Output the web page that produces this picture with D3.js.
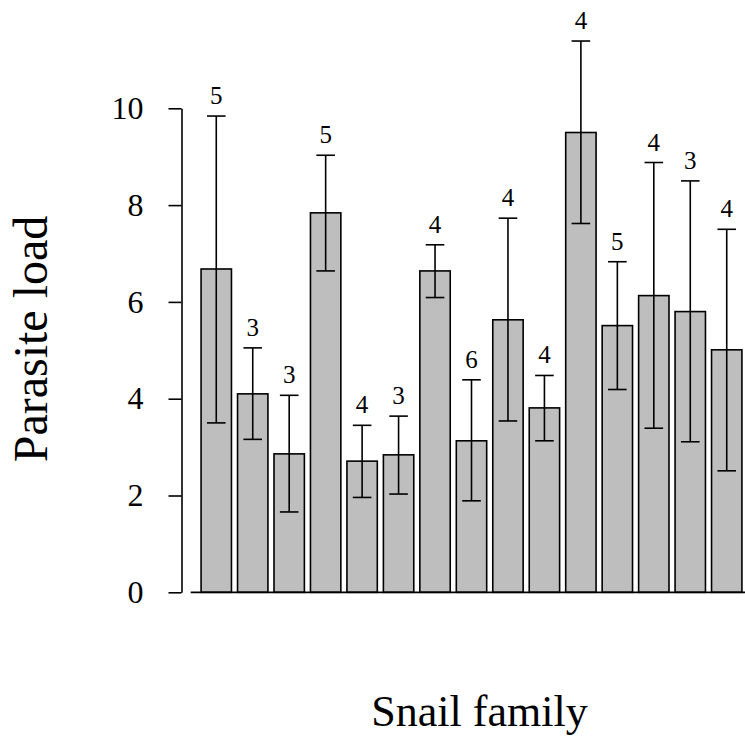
<!DOCTYPE html>
<html>
<head>
<meta charset="utf-8">
<script src="https://cdn.jsdelivr.net/npm/d3@7"></script>
<style>
  body { margin: 0; background: #fff; }
  svg { display: block; }
</style>
</head>
<body>
<div id="chart"></div>
<script>
// snail families (unlabelled on the x axis)
const families = ["F1", "F2", "F3", "F4", "F5", "F6", "F7", "F8", "F9", "F10", "F11", "F12", "F13", "F14", "F15"];
const means = [6.68, 4.10, 2.86, 7.84, 2.71, 2.84, 6.64, 3.13, 5.63, 3.81, 9.50, 5.51, 6.13, 5.80, 5.01];
const upper = [9.84, 5.05, 4.07, 9.03, 3.45, 3.64, 7.18, 4.39, 7.73, 4.48, 11.39, 6.83, 8.88, 8.50, 7.50];
const lower = [3.50, 3.16, 1.66, 6.64, 1.96, 2.03, 6.09, 1.89, 3.54, 3.13, 7.62, 4.19, 3.39, 3.11, 2.51];
const sampleSizes = [5, 3, 3, 5, 4, 3, 4, 6, 4, 4, 4, 5, 4, 3, 4];
const yTicks = [0, 2, 4, 6, 8, 10];

const width = 745;
const height = 740;
const axisX = 181.5;
const capHalf = 9.3;
const serif = "'Liberation Serif', 'Times New Roman', serif";

const data = families.map((f, i) => ({
  family: f,
  mean: means[i],
  hi: upper[i],
  lo: lower[i],
  n: sampleSizes[i],
}));

const svg = d3
  .select("#chart")
  .append("svg")
  .attr("width", width)
  .attr("height", height);

/* Scales */
const x = d3
  .scaleBand()
  .domain(families)
  .range([195, 748])
  .paddingInner(0.1667)
  .paddingOuter(0.1667);

const y = d3.scaleLinear().domain([0, 10]).range([592.3, 108.3]);

/* Bars */
svg
  .append("g")
  .selectAll("rect")
  .data(data)
  .enter()
  .append("rect")
  .attr("x", (d) => x(d.family))
  .attr("y", (d) => y(d.mean))
  .attr("width", x.bandwidth())
  .attr("height", (d) => y(0) - y(d.mean))
  .style("fill", "#bebebe")
  .style("stroke", "#000")
  .style("stroke-width", 1.6);

/* Baseline */
svg
  .append("line")
  .attr("x1", 190.7)
  .attr("x2", width)
  .attr("y1", y(0))
  .attr("y2", y(0))
  .style("stroke", "#000")
  .style("stroke-width", 1.8);

/* Error bars */
const err = svg.append("g").style("stroke", "#000").style("stroke-width", 1.6);
const cx = (d) => x(d.family) + x.bandwidth() / 2;

err
  .selectAll(".stem")
  .data(data)
  .enter()
  .append("line")
  .attr("class", "stem")
  .attr("x1", cx)
  .attr("x2", cx)
  .attr("y1", (d) => y(d.lo))
  .attr("y2", (d) => y(d.hi));

err
  .selectAll(".capHi")
  .data(data)
  .enter()
  .append("line")
  .attr("class", "capHi")
  .attr("x1", (d) => cx(d) - capHalf)
  .attr("x2", (d) => cx(d) + capHalf)
  .attr("y1", (d) => y(d.hi))
  .attr("y2", (d) => y(d.hi));

err
  .selectAll(".capLo")
  .data(data)
  .enter()
  .append("line")
  .attr("class", "capLo")
  .attr("x1", (d) => cx(d) - capHalf)
  .attr("x2", (d) => cx(d) + capHalf)
  .attr("y1", (d) => y(d.lo))
  .attr("y2", (d) => y(d.lo));

/* Sample size labels */
svg
  .append("g")
  .selectAll("text")
  .data(data)
  .enter()
  .append("text")
  .attr("x", cx)
  .attr("y", (d) => y(d.hi) - 12)
  .attr("text-anchor", "middle")
  .style("font-family", serif)
  .style("font-size", "25px")
  .style("fill", "#000")
  .text((d) => d.n);

/* Y axis */
const yAxis = d3
  .axisLeft(y)
  .tickValues(yTicks)
  .tickSize(13)
  .tickSizeOuter(0)
  .tickPadding(25)
  .tickFormat(d3.format("d"));

const yG = svg
  .append("g")
  .attr("transform", `translate(${axisX},0)`)
  .call(yAxis);

yG.select(".domain").style("stroke", "#000").style("stroke-width", 1.6);
yG.selectAll(".tick line").style("stroke", "#000").style("stroke-width", 1.6);
yG.selectAll(".tick text")
  .style("font-family", serif)
  .style("font-size", "32px")
  .style("fill", "#000");

/* Axis titles */
svg
  .append("text")
  .attr("transform", "translate(46.5,339) rotate(-90)")
  .attr("text-anchor", "middle")
  .style("font-family", serif)
  .style("font-size", "48px")
  .style("fill", "#000")
  .text("Parasite load");

svg
  .append("text")
  .attr("x", 479.5)
  .attr("y", 726)
  .attr("text-anchor", "middle")
  .style("font-family", serif)
  .style("font-size", "44px")
  .style("fill", "#000")
  .text("Snail family");
</script>
</body>
</html>
